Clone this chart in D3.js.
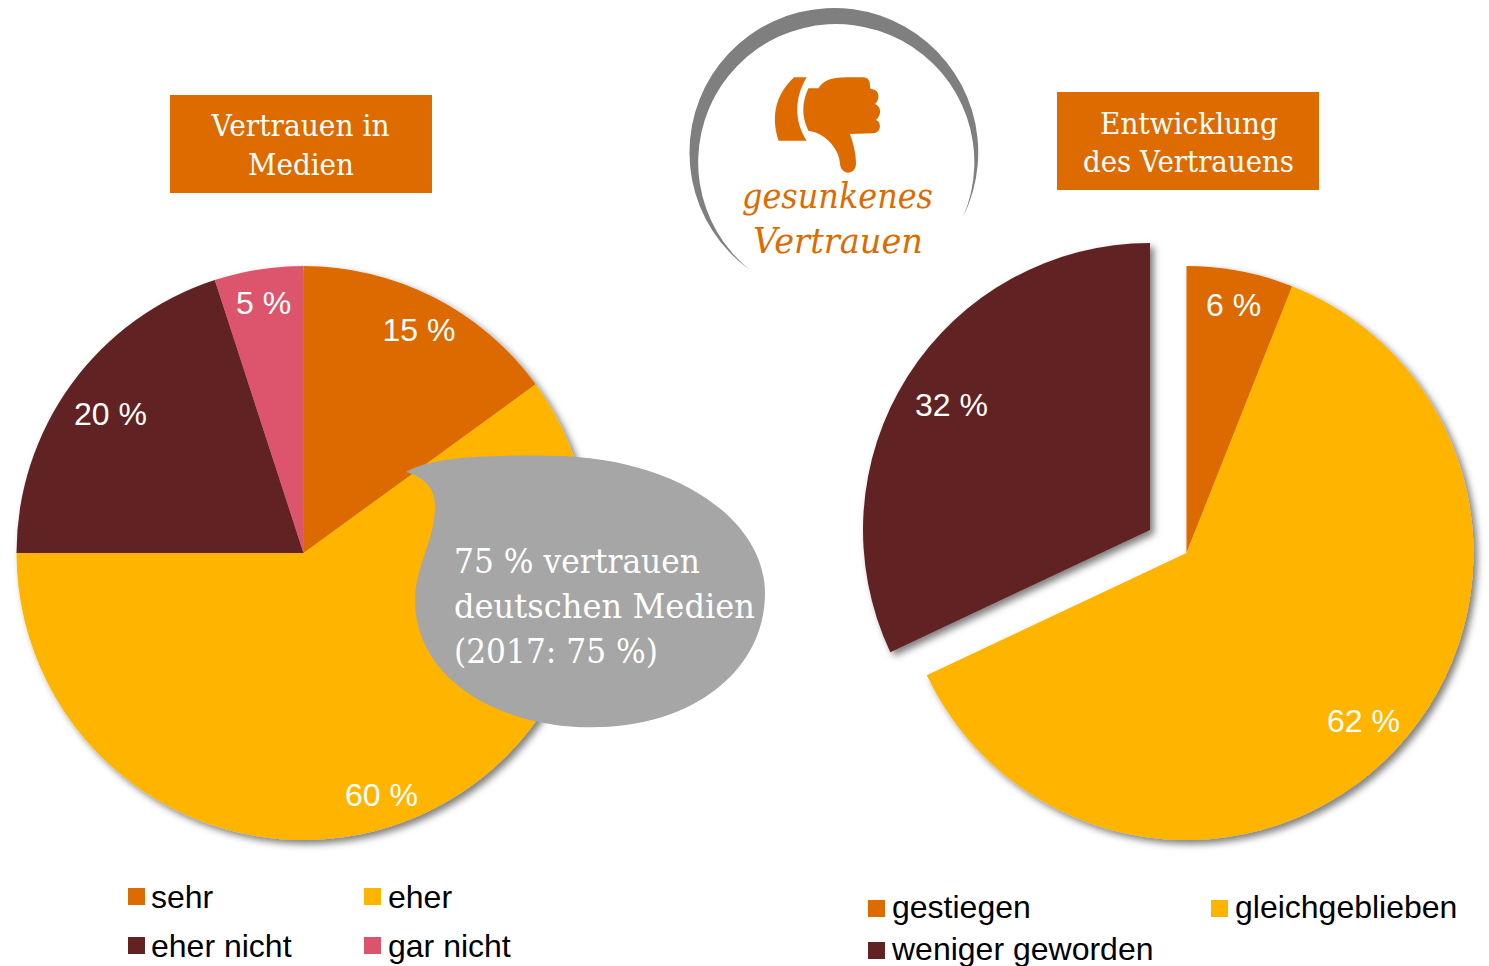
<!DOCTYPE html>
<html><head><meta charset="utf-8">
<script src="https://cdnjs.cloudflare.com/ajax/libs/d3/7.8.5/d3.min.js"></script>
<style>html,body{margin:0;padding:0;background:#fff}svg{display:block}</style>
</head><body><div id="c"></div>
<script>
const trustCategories = ["sehr","eher","eher nicht","gar nicht"];
const trustValues = [15,60,20,5];
const trustLabels = ["15 %","60 %","20 %","5 %"];
const trendCategories = ["gestiegen","gleichgeblieben","weniger geworden"];
const trendValues = [6,62,32];
const trendLabels = ["6 %","62 %","32 %"];
const C = {or:"#dd6b00",am:"#ffb400",ma:"#612321",pi:"#dc546c"};
const trustColors=[C.or,C.am,C.ma,C.pi], trendColors=[C.or,C.am,C.ma];
const SANS="'Liberation Sans',Arial,sans-serif", SERIF="'DejaVu Serif',Georgia,serif";
const W=1489,H=966,R=287;
const svg=d3.select("#c").append("svg").attr("width",W).attr("height",H);
const defs=svg.append("defs");
const f=defs.append("filter").attr("id","sh").attr("x","-10%").attr("y","-10%").attr("width","125%").attr("height","125%");
f.append("feDropShadow").attr("dx",4).attr("dy",4).attr("stdDeviation",3.5).attr("flood-color","#000").attr("flood-opacity",.5);
const pie=d3.pie().sort(null);
const arc=d3.arc().innerRadius(0).outerRadius(R);
// left pie (slices share one shadow group)
{
 const g=svg.append("g").attr("transform","translate(303.5,553)").attr("filter","url(#sh)");
 pie(trustValues).forEach((d,i)=>g.append("path").attr("d",arc(d)).attr("fill",trustColors[i]));
}
// right pie
{
 const g=svg.append("g").attr("transform","translate(1186.5,553)");
 const arcs=pie(trendValues);
 const g1=g.append("g").attr("filter","url(#sh)");
 g1.append("path").attr("d",arc(arcs[0])).attr("fill",trendColors[0]);
 g1.append("path").attr("d",arc(arcs[1])).attr("fill",trendColors[1]);
 g.append("path").attr("d",arc(arcs[2])).attr("fill",trendColors[2]).attr("filter","url(#sh)").attr("transform","translate(-36.5,-23)");
}
function lab(t,x,y,size,fill,fam,anchor,style,len){
  const s=svg.append("text").attr("x",x).attr("y",y).attr("font-size",size).attr("fill",fill)
   .attr("font-family",fam).attr("text-anchor",anchor||"start").attr("font-style",style||"normal").text(t);
  if(len) s.attr("textLength",len).attr("lengthAdjust","spacingAndGlyphs");
  return s;
}
// pie labels
const trustPos=[[382.5,341],[345,806],[74,425],[236,314]];
trustLabels.forEach((t,i)=>lab(t,trustPos[i][0],trustPos[i][1],32,"#fff",SANS));
const trendPos=[[1206,316],[1327,732],[915,416]];
trendLabels.forEach((t,i)=>lab(t,trendPos[i][0],trendPos[i][1],32,"#fff",SANS));
// title boxes
svg.append("rect").attr("x",170).attr("y",95).attr("width",262).attr("height",98).attr("fill",C.or);
svg.append("rect").attr("x",1057).attr("y",92).attr("width",262).attr("height",98).attr("fill",C.or);
lab("Vertrauen in",300.5,136,29,"#fff",SERIF,"middle",null,178);
lab("Medien",301,175,29,"#fff",SERIF,"middle",null,106);
lab("Entwicklung",1189,134,29,"#fff",SERIF,"middle",null,178);
lab("des Vertrauens",1188.5,172,29,"#fff",SERIF,"middle",null,211);
// callout
svg.append("path").attr("transform","translate(400,440) scale(0.33333)").attr("fill","#a6a6a6")
 .attr("d","M18,95 C100,50 250,45 450,47 C830,50 1095,240 1095,460 C1095,690 880,862 575,862 C300,862 45,720 45,480 C45,380 105,300 105,200 C105,130 60,110 18,95Z");
lab("75 % vertrauen",454,573,33,"#fff",SERIF,"start",null,246);
lab("deutschen Medien",454,618,33,"#fff",SERIF,"start",null,301);
lab("(2017: 75 %)",454,663,33,"#fff",SERIF,"start",null,204);
// crescent
svg.append("path").attr("fill","#7f7f7f").attr("d","M750,270 A144.4,144.4 0 1 1 963,217 A138.1,138.1 0 1 0 750,270Z");
// thumb
const th=svg.append("g").attr("transform","translate(680,0) scale(0.33333)").attr("fill",C.or);
th.append("path").attr("d","M342,232 L380,232 C345,290 340,360 380,422 L296,422 C275,360 280,290 342,232Z");
th.append("path").attr("d","M415,265 C430,240 460,232 500,232 L550,232 C565,232 572,245 570,265 L578,268 C600,272 600,300 585,312 C605,320 605,345 588,360 C605,365 605,398 580,400 L510,402 C520,430 528,460 528,490 C528,510 515,518 505,518 C490,518 480,505 480,490 C478,450 440,400 385,392 C365,350 365,310 385,265Z");
lab("gesunkenes",837.5,208,36,C.or,SERIF,"middle","italic",191);
lab("Vertrauen",838,253,36,C.or,SERIF,"middle","italic",170);
// legends
const trustLeg=[[128,908],[364,908],[128,957],[364,957]];
trustCategories.forEach((t,i)=>{
  const p=trustLeg[i];
  svg.append("rect").attr("x",p[0]).attr("y",p[1]-20).attr("width",17).attr("height",17).attr("fill",trustColors[i]);
  lab(t,p[0]+(i%2?24:23),p[1],32,"#000",SANS);
});
const trendLeg=[[868,918],[1211,918],[868,960]];
trendCategories.forEach((t,i)=>{
  const p=trendLeg[i];
  svg.append("rect").attr("x",p[0]).attr("y",p[1]-18).attr("width",17).attr("height",17).attr("fill",trendColors[i]);
  lab(t,p[0]+24,p[1],32,"#000",SANS);
});
</script></body></html>
